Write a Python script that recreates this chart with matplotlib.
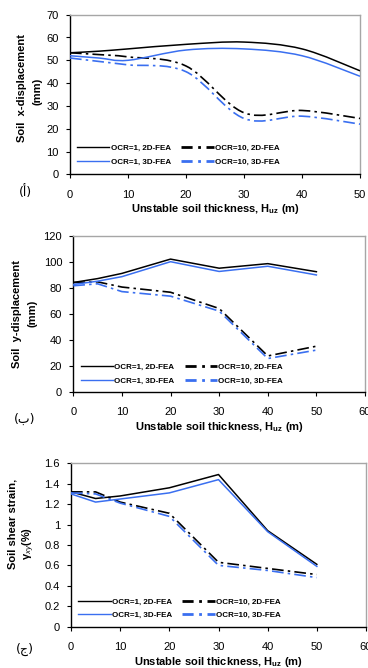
import numpy as np
import matplotlib
matplotlib.use("Agg")
import matplotlib.pyplot as plt
from matplotlib.path import Path
from matplotlib.patches import PathPatch
from matplotlib.lines import Line2D

plt.rcParams['font.family'] = ['Liberation Sans', 'DejaVu Sans']
plt.rcParams['mathtext.fontset'] = 'custom'
plt.rcParams['mathtext.rm'] = 'Liberation Sans'
plt.rcParams['mathtext.bf'] = 'Liberation Sans:bold'
plt.rcParams['mathtext.it'] = 'Liberation Sans:italic'

# ---------------- data ----------------
h_uz = [0, 5, 10, 20, 30, 40, 50]

# Panel (a): soil x-displacement (mm)
x_ocr1_2d = [53.3, 54.0, 55.0, 57.0, 58.0, 55.0, 45.4]
x_ocr1_3d = [52.0, 51.0, 50.0, 54.5, 55.0, 52.0, 43.0]
x_ocr10_2d = [53.3, 52.5, 51.5, 47.5, 27.0, 28.0, 24.5]
x_ocr10_3d = [51.0, 49.5, 48.0, 45.0, 24.5, 25.5, 22.0]

# Panel (b): soil y-displacement (mm)
y_ocr1_2d = [84.0, 87.0, 91.0, 102.0, 95.0, 98.5, 92.3]
y_ocr1_3d = [82.5, 85.0, 88.5, 100.0, 92.5, 96.5, 89.8]
y_ocr10_2d = [84.0, 84.5, 80.5, 76.5, 64.0, 27.5, 35.0]
y_ocr10_3d = [81.5, 83.0, 77.0, 73.5, 62.0, 25.5, 32.0]

# Panel (c): soil shear strain (%)
g_ocr1_2d = [1.32, 1.255, 1.28, 1.36, 1.49, 0.94, 0.61]
g_ocr1_3d = [1.30, 1.22, 1.25, 1.31, 1.44, 0.93, 0.59]
g_ocr10_2d = [1.32, 1.32, 1.22, 1.11, 0.63, 0.57, 0.51]
g_ocr10_3d = [1.31, 1.30, 1.21, 1.08, 0.60, 0.55, 0.48]

series_labels = ["OCR=1, 2D-FEA", "OCR=10, 2D-FEA", "OCR=1, 3D-FEA", "OCR=10, 3D-FEA"]
panel_tags = ["(\u0623)", "(\u0628)", "(\u062c)"]
xlabel = r"Unstable soil thickness, H$_{\mathbf{uz}}$ (m)"

BLACK = "#000000"
BLUE = "#3a6ff0"
DASHDOT = (0, (7, 2.5, 1.5, 2.5))


def smooth_path(x, y):
    """Excel-style smoothed line as cubic Bezier segments (Catmull-Rom)."""
    x = np.asarray(x, float)
    y = np.asarray(y, float)
    n = len(x)
    verts = [(x[0], y[0])]
    codes = [Path.MOVETO]
    for i in range(n - 1):
        i0 = max(i - 1, 0)
        i3 = min(i + 2, n - 1)
        c1 = (x[i] + (x[i + 1] - x[i0]) / 6.0, y[i] + (y[i + 1] - y[i0]) / 6.0)
        c2 = (x[i + 1] - (x[i3] - x[i]) / 6.0, y[i + 1] - (y[i3] - y[i]) / 6.0)
        verts += [c1, c2, (x[i + 1], y[i + 1])]
        codes += [Path.CURVE4] * 3
    return Path(verts, codes)


fig = plt.figure(figsize=(3.68, 6.68), dpi=100)
W, H = 368.0, 668.0


def make_ax(l, r, t, b):
    return fig.add_axes([l / W, 1 - b / H, (r - l) / W, (b - t) / H])


def style_ax(ax, xmax, ymax, ystep, yfmt):
    ax.set_xlim(0, xmax)
    ax.set_ylim(0, ymax)
    ax.set_xticks(np.arange(0, xmax + 1, 10))
    yt = np.arange(0, ymax + ystep / 2, ystep)
    ax.set_yticks(yt)
    ax.set_yticklabels([yfmt(v) for v in yt])
    for s in ['top', 'right']:
        ax.spines[s].set_color('#a6a6a6')
        ax.spines[s].set_linewidth(1.0)
    for s in ['left', 'bottom']:
        ax.spines[s].set_color('black')
        ax.spines[s].set_linewidth(1.0)
    ax.tick_params(direction='out', length=3, width=0.8, labelsize=8, pad=5)
    ax.tick_params(axis='x', pad=8)


def add_legend(ax, anchor):
    dd = (0, (4, 2, 1, 2))
    # order so that ncol=2 gives row 1: OCR=1 2D | OCR=10 2D ; row 2: OCR=1 3D | OCR=10 3D
    handles = [
        Line2D([], [], color=BLACK, lw=1.0, ls='-'),
        Line2D([], [], color=BLUE, lw=1.0, ls='-'),
        Line2D([], [], color=BLACK, lw=2.0, ls=dd),
        Line2D([], [], color=BLUE, lw=2.0, ls=dd),
    ]
    labels = [series_labels[0], series_labels[2], series_labels[1], series_labels[3]]
    ax.legend(handles, labels, ncol=2, loc='lower left', bbox_to_anchor=anchor,
              frameon=False, prop={'weight': 'bold', 'size': 5.8},
              handlelength=4.0, handletextpad=0.15, columnspacing=1.3,
              labelspacing=0.75, borderaxespad=0, borderpad=0)


def yfmt_int(v):
    return "%d" % v


def yfmt_g(v):
    return "0" if v == 0 else ("%g" % round(v, 1))


panels = [
    dict(box=(70, 360, 14.7, 174.3), xmax=50, ymax=70, ystep=10, fmt=yfmt_int, smooth=True,
         data=[x_ocr1_2d, x_ocr10_2d, x_ocr1_3d, x_ocr10_3d], leg=(0.025, 0.055)),
    dict(box=(73.3, 365, 235.7, 391.7), xmax=60, ymax=120, ystep=20, fmt=yfmt_int, smooth=False,
         data=[y_ocr1_2d, y_ocr10_2d, y_ocr1_3d, y_ocr10_3d], leg=(0.025, 0.045)),
    dict(box=(71, 366, 463.3, 626.6), xmax=60, ymax=1.6, ystep=0.2, fmt=yfmt_g, smooth=False,
         data=[g_ocr1_2d, g_ocr10_2d, g_ocr1_3d, g_ocr10_3d], leg=(0.025, 0.045)),
]

styles = [(BLACK, '-', 1.1), (BLACK, DASHDOT, 1.2), (BLUE, '-', 1.1), (BLUE, DASHDOT, 1.2)]
axes = []
for p in panels:
    ax = make_ax(*p['box'])
    style_ax(ax, p['xmax'], p['ymax'], p['ystep'], p['fmt'])
    for vals, (c, ls, lw) in zip(p['data'], styles):
        if p['smooth']:
            patch = PathPatch(smooth_path(h_uz, vals), fill=False, edgecolor=c,
                              linestyle=ls, linewidth=lw, zorder=3)
            ax.add_patch(patch)
        else:
            ax.plot(h_uz, vals, color=c, ls=ls, lw=lw, zorder=3)
    add_legend(ax, p['leg'])
    ax.set_xlabel(xlabel, fontsize=8, fontweight='bold', labelpad=2)
    axes.append(ax)

# y labels (two lines each), placed in figure pixel coords
def ylab(x, y, s, size=8):
    fig.text(x / W, 1 - y / H, s, rotation=90, ha='center', va='center',
             fontsize=size, fontweight='bold')

ylab(21.7, 88.3, "Soil  x-displacement")
ylab(37.3, 91.0, "(mm)")
ylab(16.7, 314.0, "Soil  y-displacement")
ylab(33.0, 313.3, "(mm)")
ylab(13.0, 523.5, "Soil shear strain,")
ylab(29.0, 543.0, "\u03b3$_{xy}$(%)")

# panel tags
for tag, yy in zip(panel_tags, [192, 419, 649]):
    fig.text(25 / W, 1 - yy / H, tag, ha='center', va='center', fontsize=9,
             family=['DejaVu Sans'])

fig.savefig("out.png", dpi=100)
